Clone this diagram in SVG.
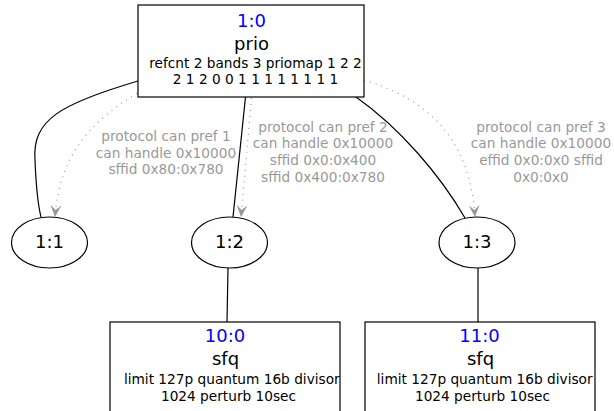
<svg xmlns="http://www.w3.org/2000/svg" width="614" height="411" viewBox="0 0 614 411">
<style>
text{font-family:"DejaVu Sans","Liberation Sans",sans-serif;text-anchor:middle;fill:#000}
.big{font-size:18px}
.sm{font-size:13.7px}
.id{fill:#0000ff}
.lab{fill:#999999;font-size:13.7px}
.box{fill:#fff;stroke:#000;stroke-width:1.2}
.e{fill:none;stroke:#000;stroke-width:1.2}
.d{fill:none;stroke:#999999;stroke-width:1.2;stroke-dasharray:1,5}
</style>
<defs>
<marker id="vee" markerUnits="userSpaceOnUse" markerWidth="14" markerHeight="14" refX="12" refY="6" orient="auto">
<path d="M12,6 L0,0.5 L5,6 L0,11.5 Z" fill="#999999"/>
</marker>
</defs>
<rect width="614" height="411" fill="#fff"/>
<g id="edges">
<path class="e" d="M138,81 C60,104 32,120 35,160 C36,185 38,205 41,217"/>
<path class="e" d="M245.5,97 L233,217"/>
<path class="e" d="M356,97 C400,128 440,175 465,218"/>
<path class="e" d="M228,268 L227,322"/>
<path class="e" d="M478,268 L478,322"/>
<path class="d" d="M137,93 C95,120 60,150 55,217" marker-end="url(#vee)"/>
<path class="d" d="M251.5,98 L241,217" marker-end="url(#vee)"/>
<path class="d" d="M364,80 C430,100 470,140 475,217" marker-end="url(#vee)"/>
<text class="lab" x="166" y="141">protocol can pref 1</text>
<text class="lab" x="166" y="157.7">can handle 0x10000</text>
<text class="lab" x="166" y="174.3">sffid 0x80:0x780</text>
<text class="lab" x="323" y="131.7">protocol can pref 2</text>
<text class="lab" x="323" y="148.3">can handle 0x10000</text>
<text class="lab" x="323" y="165">sffid 0x0:0x400</text>
<text class="lab" x="323" y="181.7">sffid 0x400:0x780</text>
<text class="lab" x="541" y="131.7">protocol can pref 3</text>
<text class="lab" x="541" y="148.3">can handle 0x10000</text>
<text class="lab" x="541" y="165">effid 0x0:0x0 sffid</text>
<text class="lab" x="541" y="181.7">0x0:0x0</text>
</g>
<g id="n1_0">
<rect class="box" x="138" y="5" width="226" height="92"/>
<text class="big id" x="251.5" y="27">1:0</text>
<text class="big" x="251.5" y="50">prio</text>
<text class="sm" x="255.5" y="68">refcnt 2 bands 3 priomap 1 2 2</text>
<text class="sm" x="255.5" y="84">2 1 2 0 0 1 1 1 1 1 1 1 1</text>
</g>
<g id="n1_1">
<ellipse class="box" cx="49.5" cy="242.5" rx="38" ry="25.5"/>
<text class="big" x="49.5" y="248">1:1</text>
</g>
<g id="n1_2">
<ellipse class="box" cx="229.5" cy="242.5" rx="38" ry="25.5"/>
<text class="big" x="229.5" y="248">1:2</text>
</g>
<g id="n1_3">
<ellipse class="box" cx="477" cy="242.5" rx="38" ry="25.5"/>
<text class="big" x="477" y="248">1:3</text>
</g>
<g id="n10_0">
<rect class="box" x="110" y="322" width="230" height="100"/>
<text class="big id" x="225" y="342">10:0</text>
<text class="big" x="225.5" y="365">sfq</text>
<text class="sm" x="231.8" y="384">limit 127p quantum 16b divisor</text>
<text class="sm" x="228.5" y="400.7">1024 perturb 10sec</text>
</g>
<g id="n11_0">
<rect class="box" x="365" y="322" width="230" height="100"/>
<text class="big id" x="479.5" y="342">11:0</text>
<text class="big" x="480.5" y="365">sfq</text>
<text class="sm" x="484.7" y="384">limit 127p quantum 16b divisor</text>
<text class="sm" x="482.5" y="400.7">1024 perturb 10sec</text>
</g>
</svg>
